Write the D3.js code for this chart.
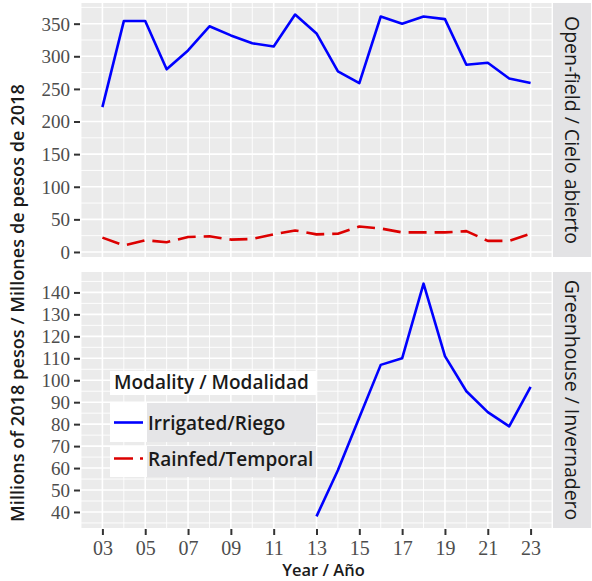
<!DOCTYPE html>
<html>
<head>
<meta charset="utf-8">
<script src="https://cdn.jsdelivr.net/npm/d3@7"></script>
<style>
  html, body { margin: 0; padding: 0; background: #fff; }
  svg { display: block; }
</style>
</head>
<body>
<svg id="chart" width="592" height="581"></svg>
<script>
// Years (two-digit labels on the x axis)
const years = [2003, 2004, 2005, 2006, 2007, 2008, 2009, 2010, 2011, 2012, 2013,
               2014, 2015, 2016, 2017, 2018, 2019, 2020, 2021, 2022, 2023];
// Open-field production value, millions of 2018 pesos
const openIrrigated = [222, 354, 354, 280, 309, 346, 332, 320, 315, 364, 335,
                       277, 259, 361, 350, 361, 357, 287, 290, 266, 259];
const openRainfed   = [22, 10, 18, 15, 23, 24, 19, 20, 27, 33, 27,
                       28, 39, 36, 30, 30, 30, 32, 17, 17, 28];
// Greenhouse production value (irrigated only), from 2013
const greenhouseYears     = [2013, 2014, 2015, 2016, 2017, 2018, 2019, 2020, 2021, 2022, 2023];
const greenhouseIrrigated = [38, 59, 83, 107, 110, 144, 111, 95, 85.5, 79, 97];

const xTickYears  = [2003, 2005, 2007, 2009, 2011, 2013, 2015, 2017, 2019, 2021, 2023];
const xTickLabels = ["03", "05", "07", "09", "11", "13", "15", "17", "19", "21", "23"];
const topTicks    = [0, 50, 100, 150, 200, 250, 300, 350];
const bottomTicks = [40, 50, 60, 70, 80, 90, 100, 110, 120, 130, 140];

const panelTitles = ["Open-field / Cielo abierto", "Greenhouse / Invernadero"];
const seriesNames = ["Irrigated/Riego", "Rainfed/Temporal"];
const legendTitle = "Modality / Modalidad";
const xTitle = "Year / Año";
const yTitle = "Millions of 2018 pesos / Millones de pesos de 2018";

const BLUE = "#0000ff", RED = "#dc0000";
const PANEL_BG = "#ebebeb", STRIP_BG = "#e3e3e5";
const TICK_FONT = "'Liberation Serif', 'DejaVu Serif', serif";
const SANS = "'Open Sans', 'Noto Sans', sans-serif";

const svg = d3.select("#chart");
svg.append("rect").attr("width", 592).attr("height", 581).attr("fill", "#fff");

const left = 81, right = 552, stripW = 38;
const panels = [
  { top: 3, bottom: 257 },
  { top: 272, bottom: 528 }
];

// ggplot-like 5% expansion of the data range
function expand(lo, hi) { const d = (hi - lo) * 0.05; return [lo - d, hi + d]; }

const x = d3.scaleLinear()
  .domain(expand(d3.min(years), d3.max(years)))
  .range([left, right]);

const yTop = d3.scaleLinear()
  .domain(expand(d3.min(openRainfed), d3.max(openIrrigated)))
  .range([panels[0].bottom, panels[0].top]);
const yBot = d3.scaleLinear()
  .domain(expand(d3.min(greenhouseIrrigated), d3.max(greenhouseIrrigated)))
  .range([panels[1].bottom, panels[1].top]);

function drawPanel(p, y, majorTicks, minorStep, title) {
  const g = svg.append("g");
  g.append("rect").attr("x", left).attr("y", p.top)
    .attr("width", right - left).attr("height", p.bottom - p.top).attr("fill", PANEL_BG);

  const [d0, d1] = y.domain();
  const minor = d3.range(Math.ceil(d0 / minorStep) * minorStep, d1, minorStep)
    .filter(v => !majorTicks.includes(v));
  const xMinor = d3.range(Math.ceil(x.domain()[0]), x.domain()[1] + 1e-9, 1)
    .filter(v => !xTickYears.includes(v));

  // minor grid
  g.selectAll(null).data(minor).join("line")
    .attr("x1", left).attr("x2", right)
    .attr("y1", d => y(d)).attr("y2", d => y(d))
    .attr("stroke", "#fff").attr("stroke-width", 0.9);
  g.selectAll(null).data(xMinor).join("line")
    .attr("x1", d => x(d)).attr("x2", d => x(d))
    .attr("y1", p.top).attr("y2", p.bottom)
    .attr("stroke", "#fff").attr("stroke-width", 0.9);
  // major grid
  g.selectAll(null).data(majorTicks).join("line")
    .attr("x1", left).attr("x2", right)
    .attr("y1", d => y(d)).attr("y2", d => y(d))
    .attr("stroke", "#fff").attr("stroke-width", 1.6);
  g.selectAll(null).data(xTickYears).join("line")
    .attr("x1", d => x(d)).attr("x2", d => x(d))
    .attr("y1", p.top).attr("y2", p.bottom)
    .attr("stroke", "#fff").attr("stroke-width", 1.6);

  // y axis
  const axis = d3.axisLeft(y).tickValues(majorTicks).tickSize(6).tickPadding(4);
  const ag = svg.append("g").attr("transform", `translate(${left - 1},0)`).call(axis);
  ag.select(".domain").remove();
  ag.selectAll(".tick line").attr("stroke", "#333").attr("stroke-width", 2);
  ag.selectAll(".tick text")
    .attr("font-family", TICK_FONT).attr("font-size", 19).attr("fill", "#4d4d4d")
    .attr("dy", "0.34em");

  // facet strip
  svg.append("rect").attr("x", right + 1).attr("y", p.top)
    .attr("width", stripW).attr("height", p.bottom - p.top).attr("fill", STRIP_BG);
  svg.append("text")
    .attr("transform", `translate(${right + 1 + stripW / 2},${(p.top + p.bottom) / 2}) rotate(90)`)
    .attr("text-anchor", "middle").attr("dy", "0.36em")
    .attr("font-family", SANS).attr("font-size", 19.5).attr("fill", "#1a1a1a")
    .text(title);
}

drawPanel(panels[0], yTop, topTicks, 25, panelTitles[0]);
drawPanel(panels[1], yBot, bottomTicks, 5, panelTitles[1]);

// x axis under the lower panel
const xAxis = d3.axisBottom(x).tickValues(xTickYears).tickSize(6).tickPadding(6)
  .tickFormat((d, i) => xTickLabels[i]);
const xg = svg.append("g").attr("transform", `translate(0,${panels[1].bottom + 1})`).call(xAxis);
xg.select(".domain").remove();
xg.selectAll(".tick line").attr("stroke", "#333").attr("stroke-width", 2);
xg.selectAll(".tick text")
  .attr("font-family", TICK_FONT).attr("font-size", 20).attr("fill", "#4d4d4d");

// series lines
const line = (ys, y) => d3.line().x((d, i) => x(d)).y((d, i) => y(ys[i]));
svg.append("path").attr("d", line(openIrrigated, yTop)(years))
  .attr("fill", "none").attr("stroke", BLUE).attr("stroke-width", 2.6)
  .attr("stroke-linejoin", "round");
svg.append("path").attr("d", line(openRainfed, yTop)(years))
  .attr("fill", "none").attr("stroke", RED).attr("stroke-width", 2.6)
  .attr("stroke-dasharray", "18,8").attr("stroke-linejoin", "round");
svg.append("path").attr("d", line(greenhouseIrrigated, yBot)(greenhouseYears))
  .attr("fill", "none").attr("stroke", BLUE).attr("stroke-width", 2.6)
  .attr("stroke-linejoin", "round");

// axis titles
svg.append("text").attr("x", (left + right) / 2 + 7).attr("y", 576)
  .attr("text-anchor", "middle")
  .attr("font-family", SANS).attr("font-weight", 600).attr("font-size", 16.5).attr("fill", "#1a1a1a")
  .text(xTitle);
svg.append("text")
  .attr("transform", `translate(24,303) rotate(-90)`)
  .attr("text-anchor", "middle")
  .attr("font-family", SANS).attr("font-weight", 600).attr("font-size", 18.2).attr("fill", "#1a1a1a")
  .text(yTitle);

// legend
const lg = svg.append("g");
lg.append("rect").attr("x", 110).attr("y", 371).attr("width", 206).attr("height", 24).attr("fill", "#fff");
lg.append("text").attr("x", 114).attr("y", 389)
  .attr("font-family", SANS).attr("font-weight", 600).attr("font-size", 19).attr("fill", "#1a1a1a")
  .text(legendTitle);
const keyRows = [{ top: 403, h: 39, color: BLUE, dash: null },
                 { top: 446, h: 31, color: RED, dash: "19,7" }];
keyRows.forEach((r, i) => {
  lg.append("rect").attr("x", 110).attr("y", r.top).attr("width", 37).attr("height", r.h).attr("fill", "#fff");
  lg.append("rect").attr("x", 147).attr("y", r.top).attr("width", 169).attr("height", r.h).attr("fill", "#e5e5e7");
  const cy = r.top + r.h / 2 + (i === 0 ? 0 : -3);
  lg.append("line").attr("x1", 114).attr("x2", 143).attr("y1", cy).attr("y2", cy)
    .attr("stroke", r.color).attr("stroke-width", 2.6)
    .attr("stroke-dasharray", r.dash);
  lg.append("text").attr("x", 148).attr("y", cy + 7)
    .attr("font-family", SANS).attr("font-weight", 600).attr("font-size", 19).attr("fill", "#1a1a1a")
    .text(seriesNames[i]);
});
</script>
</body>
</html>
